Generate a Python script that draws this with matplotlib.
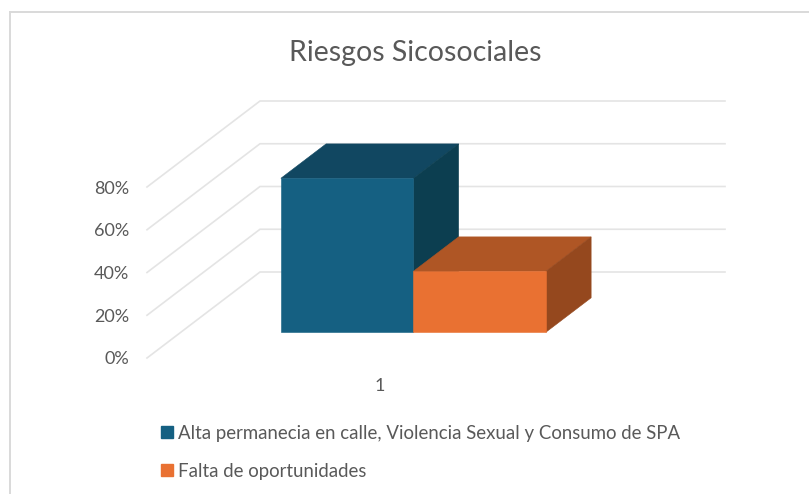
import matplotlib

matplotlib.use("Agg")
import matplotlib.pyplot as plt
from matplotlib.lines import Line2D
from matplotlib.patches import Patch, Polygon

W, H = 809, 494

title = "Riesgos Sicosociales"
categories = ["1"]
series_names = [
    "Alta permanecia en calle, Violencia Sexual y Consumo de SPA",
    "Falta de oportunidades",
]
series_values = [0.72, 0.285]
y_ticks = [0.0, 0.2, 0.4, 0.6, 0.8]
y_labels = ["0%", "20%", "40%", "60%", "80%"]

# front, top, side shades for each series
front_colors = ["#156082", "#114761", "#0C3E50"]
orange_colors = ["#E97132", "#AF5625", "#95481E"]
series_colors = [front_colors, orange_colors]

text_color = "#595959"
grid_color = "#E4E4E4"
frame_color = "#D9D9D9"

plt.rcParams["font.family"] = ["Lato", "DejaVu Sans"]

# oblique look of the fake 3D: how far the back wall sits from the front plane
DEPTH_X = 113 / 465
DEPTH_Y = 86 / 171 * 0.8
BAR_WIDTH = 0.285
BAR_NEAR, BAR_FAR = 0.30, 0.70


def oblique(x, v, d):
    return (x + d * DEPTH_X, v + d * DEPTH_Y)


def add_box(ax, x0, x1, value, colors, z):
    faces = [
        [oblique(x0, value, BAR_NEAR), oblique(x1, value, BAR_NEAR),
         oblique(x1, value, BAR_FAR), oblique(x0, value, BAR_FAR)],
        [oblique(x1, 0, BAR_NEAR), oblique(x1, 0, BAR_FAR),
         oblique(x1, value, BAR_FAR), oblique(x1, value, BAR_NEAR)],
        [oblique(x0, 0, BAR_NEAR), oblique(x1, 0, BAR_NEAR),
         oblique(x1, value, BAR_NEAR), oblique(x0, value, BAR_NEAR)],
    ]
    for pts, col in zip(faces, [colors[1], colors[2], colors[0]]):
        ax.add_patch(Polygon(pts, closed=True, facecolor=col, edgecolor=col,
                             linewidth=0.4, clip_on=False, zorder=z))


fig = plt.figure(figsize=(W / 100, H / 100), dpi=100, facecolor="white")
ax = fig.add_axes([147 / W, 1 - 358 / H, 465 / W, 171 / H])
ax.set_xlim(0.5, 1.5)
ax.set_ylim(0, 0.8)
for spine in ax.spines.values():
    spine.set_visible(False)
ax.patch.set_visible(False)

ax.set_yticks(y_ticks)
ax.set_yticklabels(y_labels)
ax.set_xticks([1])
ax.set_xticklabels(categories)
ax.tick_params(axis="y", length=0, pad=13, labelsize=13, labelcolor=text_color)
ax.tick_params(axis="x", length=0, pad=14.5, labelsize=13, labelcolor=text_color)

for t in y_ticks:
    x_back, y_back = oblique(0.5, t, 1)
    ax.plot([0.5, x_back, 1.5 + DEPTH_X], [t, y_back, y_back], color=grid_color,
            lw=1.2, clip_on=False, zorder=1, solid_joinstyle="miter")

edges = [1 - BAR_WIDTH, 1, 1 + BAR_WIDTH]
for i, val in enumerate(series_values):
    add_box(ax, edges[i], edges[i + 1], val, series_colors[i], 3 + i)

fig.text(415 / W, 1 - 53 / H, title, ha="center", va="center", fontsize=20.5, color=text_color)

handles = [Patch(facecolor=c[0], edgecolor=c[0]) for c in series_colors]
fig.legend(
    handles,
    series_names,
    loc="upper left",
    bbox_to_anchor=(155 / W, 1 - 419 / H),
    frameon=False,
    fontsize=13.4,
    labelcolor=text_color,
    handlelength=0.65,
    handleheight=0.65,
    handletextpad=0.28,
    labelspacing=1.13,
    borderpad=0.3,
    borderaxespad=0,
)

# outline of the chart area, cut by the picture on the right and at the bottom
fig.add_artist(Line2D([10 / W, 1], [1 - 12 / H, 1 - 12 / H], color=frame_color, lw=1.4))
fig.add_artist(Line2D([10 / W, 10 / W], [0, 1 - 12 / H], color=frame_color, lw=1.4))

fig.savefig("out.png", dpi=100)
